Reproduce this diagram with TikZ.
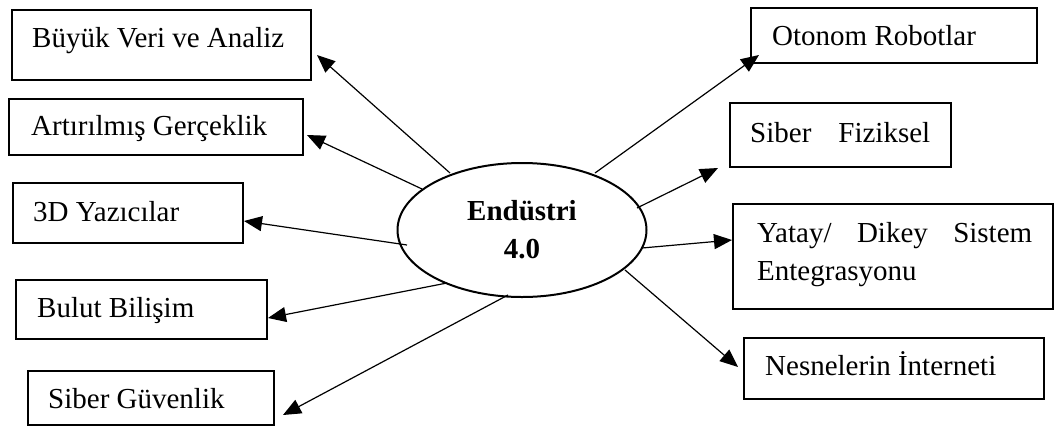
\documentclass[tikz,border=0pt]{standalone}
\usepackage{fontspec}
\setmainfont{Liberation Serif}
\usetikzlibrary{arrows.meta,shapes.geometric}
\begin{document}
\begin{tikzpicture}[x=1pt,y=-1pt,
  box/.style={draw,line width=2pt,anchor=north west,inner sep=0pt},
  lbl/.style={anchor=base west,inner sep=0pt,font=\fontsize{29}{38}\selectfont},
  arr/.style={line width=1.2pt,-{Triangle[length=18pt,width=15pt]}}]
\useasboundingbox (0,0) rectangle (1054,426);
% boxes
\node[box,minimum width=299pt,minimum height=70pt] (b1) at (11,9) {};
\node[box,minimum width=294pt,minimum height=56pt] (b2) at (8,98) {};
\node[box,minimum width=230pt,minimum height=60pt] (b3) at (12,182) {};
\node[box,minimum width=251pt,minimum height=59pt] (b4) at (15,279) {};
\node[box,minimum width=246pt,minimum height=54pt] (b5) at (27,370) {};
\node[box,minimum width=286pt,minimum height=55pt] (b6) at (750,7) {};
\node[box,minimum width=221pt,minimum height=64pt] (b7) at (729,102) {};
\node[box,minimum width=320pt,minimum height=105pt] (b8) at (732,203) {};
\node[box,minimum width=300pt,minimum height=61pt] (b9) at (743,337) {};
% labels
\node[lbl] (l1) at (32,47) {Büyük Veri ve Analiz};
\node[lbl] (l2) at (31,135) {Artırılmış Gerçeklik};
\node[lbl] (l3) at (33,221) {3D Yazıcılar};
\node[lbl] (l4) at (37,317) {Bulut Bilişim};
\node[lbl] (l5) at (48,408) {Siber Güvenlik};
\node[lbl] (l6) at (772,45) {Otonom Robotlar};
\node[lbl] (l7) at (750,142) {Siber\hspace{27pt}Fiziksel};
\node[lbl] (l8a) at (757,242) {\makebox[275pt][s]{Yatay/ Dikey Sistem}};
\node[lbl] (l8b) at (757,280) {Entegrasyonu};
\node[lbl] (l9) at (765,375) {Nesnelerin İnterneti};
% centre ellipse
\node[draw,ellipse,line width=2pt,minimum width=249pt,minimum height=134pt,inner sep=0pt] (e) at (522,230) {};
\node[anchor=base,inner sep=0pt,font=\fontsize{29}{38}\selectfont\bfseries] (et1) at (522,220) {Endüstri};
\node[anchor=base,inner sep=0pt,font=\fontsize{29}{38}\selectfont\bfseries] (et2) at (522,258) {4.0};
% connector ends
\coordinate (s1) at (450,173); \coordinate (t1) at (317,55);
\coordinate (s2) at (422,189); \coordinate (t2) at (307,135);
\coordinate (s3) at (407,245); \coordinate (t3) at (244,221);
\coordinate (s4) at (447,283); \coordinate (t4) at (268,318);
\coordinate (s5) at (508,295); \coordinate (t5) at (283,415);
\coordinate (s6) at (595,173); \coordinate (t6) at (759,55);
\coordinate (s7) at (637,208); \coordinate (t7) at (718,168);
\coordinate (s8) at (642,248); \coordinate (t8) at (732,240);
\coordinate (s9) at (625,270); \coordinate (t9) at (738,367);
\foreach \i in {1,...,9} {\draw[arr] (s\i) -- (t\i);}
\end{tikzpicture}
\end{document}
